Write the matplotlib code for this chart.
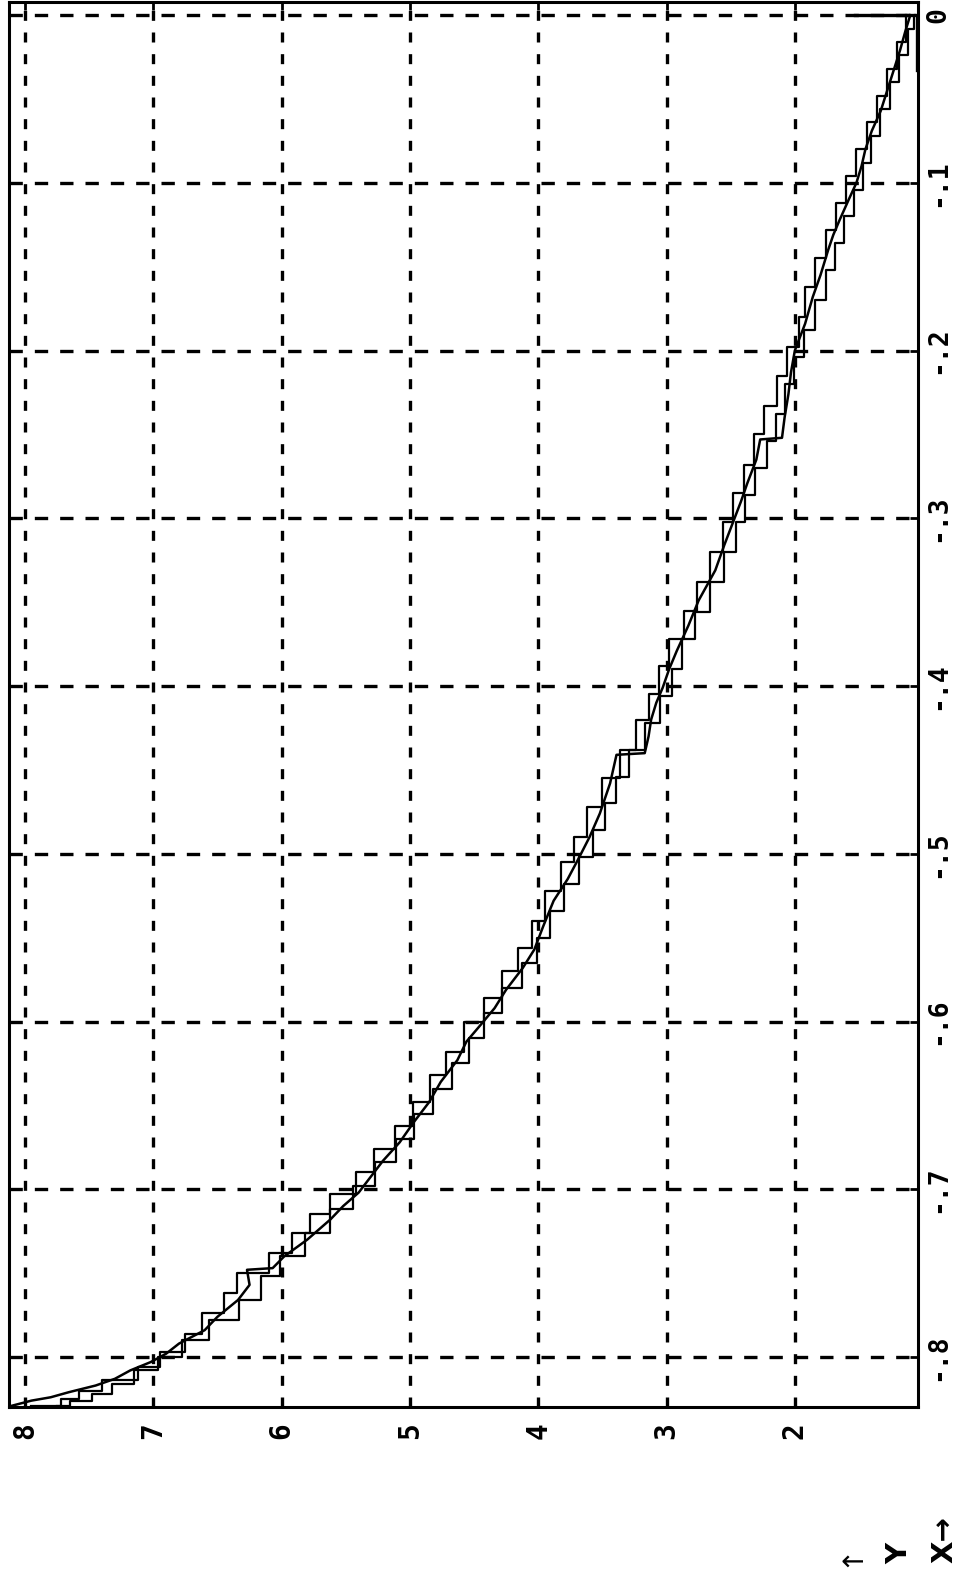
import matplotlib
matplotlib.use('Agg')
import matplotlib.pyplot as plt

# three overlapping traces (x value, y value)
trace_a_x = [-0.829, -0.826, -0.824, -0.821, -0.817, -0.813, -0.808, -0.803, -0.798, -0.792,
             -0.784, -0.776, -0.766, -0.757, -0.748, -0.747, -0.740, -0.730, -0.718, -0.710,
             -0.702, -0.692, -0.683, -0.672, -0.660, -0.648, -0.636, -0.623, -0.612, -0.603,
             -0.592, -0.581, -0.568, -0.557, -0.543, -0.528, -0.515, -0.502, -0.490, -0.476,
             -0.458, -0.441, -0.440, -0.430, -0.420, -0.410, -0.401, -0.390, -0.379, -0.364,
             -0.349, -0.331, -0.316, -0.300, -0.290, -0.279, -0.265, -0.253, -0.252, -0.240,
             -0.226, -0.213, -0.200, -0.184, -0.168, -0.155, -0.140, -0.131, -0.122, -0.110,
             -0.100, -0.090, -0.080, -0.069, -0.057, -0.045, -0.033, -0.021, -0.010, 0.000]
trace_a_y = [8.10, 7.95, 7.80, 7.66, 7.45, 7.30, 7.18, 7.02, 6.90, 6.80,
             6.60, 6.50, 6.34, 6.25, 6.27, 6.07, 5.98, 5.80, 5.62, 5.52,
             5.40, 5.30, 5.21, 5.08, 4.97, 4.85, 4.76, 4.63, 4.56, 4.46,
             4.34, 4.25, 4.12, 4.03, 3.96, 3.88, 3.77, 3.68, 3.60, 3.52,
             3.44, 3.39, 3.17, 3.14, 3.12, 3.08, 3.03, 2.98, 2.92, 2.83,
             2.75, 2.62, 2.55, 2.47, 2.42, 2.37, 2.30, 2.27, 2.10, 2.08,
             2.05, 2.03, 2.00, 1.92, 1.86, 1.80, 1.74, 1.70, 1.65, 1.58,
             1.52, 1.48, 1.45, 1.40, 1.33, 1.28, 1.23, 1.18, 1.14, 1.10]

trace_b_x = [-0.829, -0.825, -0.820, -0.814, -0.806, -0.797, -0.786, -0.774, -0.762, -0.750,
             -0.738, -0.726, -0.715, -0.703, -0.690, -0.676, -0.662, -0.648, -0.632, -0.618,
             -0.600, -0.586, -0.570, -0.556, -0.540, -0.522, -0.505, -0.490, -0.472, -0.455,
             -0.438, -0.420, -0.405, -0.388, -0.372, -0.355, -0.338, -0.320, -0.302, -0.285,
             -0.268, -0.250, -0.233, -0.215, -0.198, -0.180, -0.162, -0.145, -0.128, -0.112,
             -0.096, -0.080, -0.064, -0.048, -0.032, -0.016, 0.000]
trace_b_y = [7.95, 7.72, 7.58, 7.40, 7.12, 6.95, 6.75, 6.62, 6.45, 6.35,
             6.10, 5.92, 5.78, 5.62, 5.42, 5.28, 5.12, 4.98, 4.84, 4.72,
             4.58, 4.42, 4.28, 4.16, 4.05, 3.95, 3.82, 3.72, 3.62, 3.50,
             3.36, 3.24, 3.14, 3.06, 2.98, 2.86, 2.76, 2.66, 2.56, 2.48,
             2.40, 2.32, 2.24, 2.14, 2.06, 1.97, 1.92, 1.84, 1.76, 1.68,
             1.60, 1.52, 1.44, 1.36, 1.28, 1.20, 1.13]

trace_c_x = [-0.829, -0.826, -0.822, -0.816, -0.808, -0.800, -0.790, -0.778, -0.766, -0.752,
             -0.740, -0.726, -0.712, -0.698, -0.684, -0.670, -0.655, -0.640, -0.625, -0.610,
             -0.595, -0.580, -0.565, -0.550, -0.534, -0.518, -0.502, -0.486, -0.470, -0.454,
             -0.438, -0.422, -0.406, -0.390, -0.372, -0.356, -0.338, -0.320, -0.302, -0.286,
             -0.270, -0.254, -0.238, -0.220, -0.204, -0.188, -0.170, -0.152, -0.136, -0.120,
             -0.104, -0.088, -0.072, -0.056, -0.040, -0.024, -0.008, 0.000]
trace_c_y = [7.75, 7.55, 7.40, 7.25, 7.05, 6.88, 6.68, 6.45, 6.22, 6.10,
             5.92, 5.72, 5.52, 5.36, 5.18, 5.03, 4.90, 4.74, 4.60, 4.48,
             4.36, 4.20, 4.06, 3.96, 3.86, 3.74, 3.62, 3.52, 3.44, 3.34,
             3.24, 3.10, 3.00, 2.92, 2.84, 2.72, 2.60, 2.50, 2.42, 2.36,
             2.26, 2.18, 2.12, 2.04, 1.97, 1.88, 1.80, 1.72, 1.66, 1.58,
             1.50, 1.44, 1.38, 1.30, 1.22, 1.16, 1.08, 1.06]

# end piece running along x = 0 and the right edge
tail_x = [-0.033, 0.000, 0.000]
tail_y = [1.045, 1.045, 1.53]

x_ticks = [-0.8, -0.7, -0.6, -0.5, -0.4, -0.3, -0.2, -0.1, 0.0]
x_labels = ['-.8', '-.7', '-.6', '-.5', '-.4', '-.3', '-.2', '-.1', '0']
y_ticks = [2, 3, 4, 5, 6, 7, 8]
y_labels = ['2', '3', '4', '5', '6', '7', '8']

W, H = 956, 1575
fig = plt.figure(figsize=(W / 100, H / 100), dpi=100)
# page is turned: y runs along the bottom (8 at left), x runs up the right side
ax = fig.add_axes([9 / W, 1 - 1407 / H, (918 - 9) / W, (1407 - 2) / H])

ax.plot(trace_a_y, trace_a_x, color='black', lw=1.8)
ax.plot(trace_b_y, trace_b_x, color='black', lw=1.6, drawstyle='steps-post')
ax.plot(trace_c_y, trace_c_x, color='black', lw=1.6, drawstyle='steps-mid')
ax.plot(tail_y, tail_x, color='black', lw=2.4)

ax.set_xlim(8.125, 1.04)
ax.set_ylim(-0.8298, 0.0078)

ax.set_xticks(y_ticks)
ax.set_xticklabels(y_labels)
ax.set_yticks(x_ticks)
ax.set_yticklabels(x_labels)
ax.yaxis.tick_right()

ax.xaxis.grid(True, color='black', lw=2.4, linestyle=(0, (3.0, 3.5)))
ax.yaxis.grid(True, color='black', lw=2.4, linestyle=(0, (4.0, 3.6)))

ax.tick_params(axis='both', direction='in', length=6, width=2,
               top=True, bottom=True, left=True, right=True)
ax.tick_params(axis='x', pad=11)
ax.tick_params(axis='y', pad=5)
for lab in ax.get_xticklabels():
    lab.set_rotation(90)
    lab.set_fontfamily('DejaVu Sans Mono')
    lab.set_fontweight('bold')
    lab.set_fontsize(20)
for lab in ax.get_yticklabels():
    lab.set_rotation(90)
    lab.set_va('center')
    lab.set_fontfamily('DejaVu Sans Mono')
    lab.set_fontweight('bold')
    lab.set_fontsize(19)

for sp in ax.spines.values():
    sp.set_linewidth(2.2)
    sp.set_color('black')

# axis direction marks in the corner
fig.text(850 / W, 1 - 1555 / H, '\u2191', rotation=90, ha='center', va='center',
         fontsize=20, family='DejaVu Sans')
fig.text(899 / W, 1 - 1554 / H, 'Y', rotation=90, ha='center', va='center',
         fontsize=21, fontweight='bold', family='DejaVu Sans')
fig.text(944 / W, 1 - 1563 / H, 'X\u2192', rotation=90, ha='center', va='bottom',
         fontsize=21, fontweight='bold', family='DejaVu Sans')

fig.savefig('out.png', dpi=100)
